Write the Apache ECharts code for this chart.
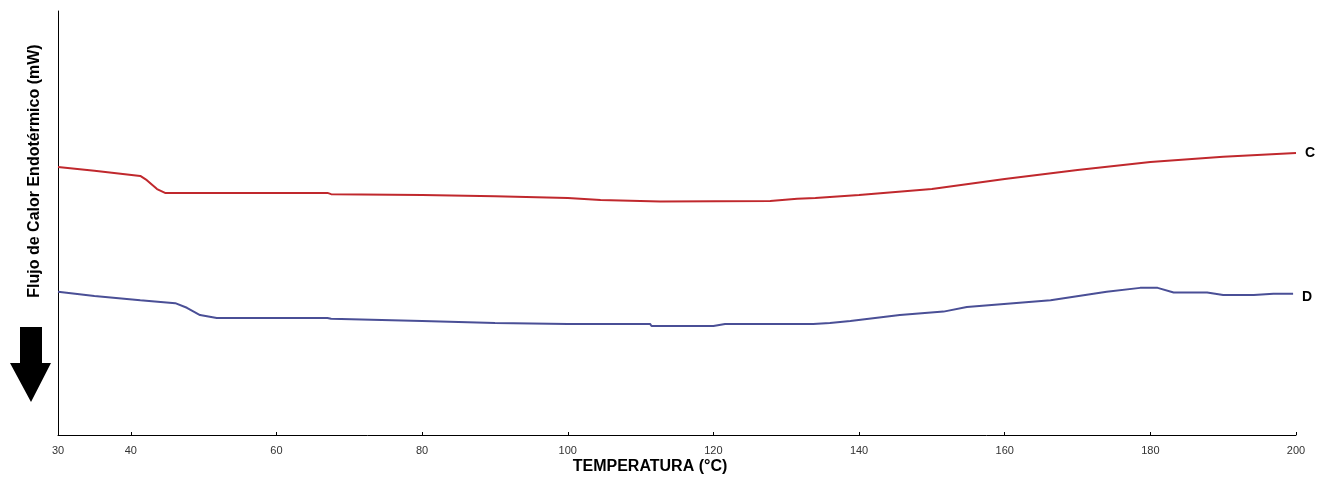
<!DOCTYPE html>
<html><head><meta charset="utf-8">
<script src="https://cdn.jsdelivr.net/npm/echarts@6/dist/echarts.min.js"></script>
<style>html,body{margin:0;padding:0;background:#fff}#c{width:1330px;height:480px}</style>
</head><body><div id="c"></div>
<script>
const tempC = [30,35,41.3,42.2,43.6,44.7,45.8,67,67.5,80,90,100,104.5,112.7,127.8,131.5,134,140,150,155,160,170,180,190,200];
const flowC = [63.2,62.3,61.1,60.1,58.0,57.1,57.1,57.1,56.8,56.6,56.3,55.9,55.4,55.1,55.2,55.7,55.9,56.6,58.0,59.2,60.4,62.5,64.4,65.6,66.5];
const tempD = [30,35,41.3,46.1,47.7,49.5,51.8,67,67.5,80,90,100,111.3,111.5,120,121.6,133.7,136,138.8,145.6,151.6,154.8,166.3,174,178.6,181,183.2,187.8,190,194.2,196.9,199.6];
const flowD = [33.8,32.8,31.8,31.1,30.0,28.3,27.6,27.6,27.4,26.9,26.4,26.2,26.2,25.7,25.7,26.2,26.2,26.4,26.9,28.3,29.1,30.2,31.8,33.8,34.7,34.7,33.6,33.6,33.0,33.0,33.3,33.3];
const xTicks = [30,40,60,80,100,120,140,160,180,200];
const seriesNames = ['C','D'];
const xTitle = 'TEMPERATURA (°C)';
const yTitle = 'Flujo de Calor Endotérmico (mW)';

const zip = (a,b) => a.map((v,i)=>[v,b[i]]);
const chart = echarts.init(document.getElementById('c'), null, {renderer:'canvas'});
const endLbl = (name) => ({show:true, formatter:name, color:'#000', fontFamily:'Arial, Liberation Sans, sans-serif', fontWeight:'bold', fontSize:14, distance:9, offset:[0,3]});
chart.setOption({
  animation:false,
  backgroundColor:'#fff',
  grid:{left:58,right:34,top:11,bottom:45},
  xAxis:{type:'value',min:30,max:200,
    axisLine:{show:true,lineStyle:{color:'#000',width:1}},
    axisTick:{show:true,inside:true,length:3,customValues:xTicks,lineStyle:{color:'#000'}},
    axisLabel:{customValues:xTicks,color:'#333',fontSize:11,fontFamily:'Arial, Liberation Sans, sans-serif',margin:10},
    splitLine:{show:false}},
  yAxis:{type:'value',min:0,max:100,
    axisLine:{show:true,lineStyle:{color:'#000',width:1}},
    axisTick:{show:false},axisLabel:{show:false},splitLine:{show:false}},
  series:[
    {name:seriesNames[0],type:'line',data:zip(tempC,flowC),showSymbol:false,lineStyle:{color:'#c0282d',width:2},endLabel:Object.assign(endLbl(seriesNames[0]),{offset:[0,0]})},
    {name:seriesNames[1],type:'line',data:zip(tempD,flowD),showSymbol:false,lineStyle:{color:'#4a4f96',width:2},endLabel:endLbl(seriesNames[1])}
  ],
  graphic:[
    {type:'text',x:650,y:467,style:{text:xTitle,fill:'#000',font:'bold 16px Arial, "Liberation Sans", sans-serif',align:'center',verticalAlign:'middle'}},
    {type:'text',x:35,y:171,rotation:Math.PI/2,style:{text:yTitle,fill:'#000',font:'bold 16px Arial, "Liberation Sans", sans-serif',align:'center',verticalAlign:'middle'}},
    {type:'polygon',shape:{points:[[20,327],[42,327],[42,363],[51,363],[31,402],[10,363],[20,363]]},style:{fill:'#000'}}
  ]
});
</script></body></html>
